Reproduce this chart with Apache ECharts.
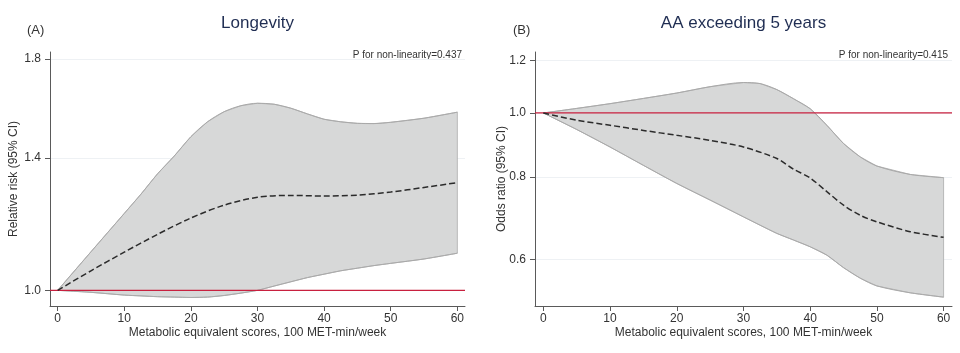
<!DOCTYPE html>
<html>
<head>
<meta charset="utf-8">
<script src="https://cdn.jsdelivr.net/npm/echarts@6/dist/echarts.min.js"></script>
<style>html,body{margin:0;padding:0;background:#fff}#c{width:960px;height:353px}</style>
</head>
<body>
<div id="c"></div>
<script>
// ---- Panel A: Longevity (relative risk) ----
const xBandA = [0, 5, 10, 12.5, 15, 17.5, 20, 22.5, 25, 27.5, 30, 32.5, 35, 37.5, 40, 42.5, 45, 47.5, 50, 55, 60];
const upperA = [1.0, 1.103, 1.216, 1.277, 1.345, 1.407, 1.478, 1.535, 1.575, 1.599, 1.609, 1.605, 1.589, 1.566, 1.545, 1.535, 1.529, 1.528, 1.533, 1.549, 1.573];
const lowerA = [1.0, 0.995, 0.988, 0.986, 0.984, 0.983, 0.982, 0.983, 0.987, 0.993, 1.0, 1.011, 1.022, 1.033, 1.042, 1.051, 1.058, 1.065, 1.071, 1.083, 1.099];
const xLineA = [0, 5, 10, 15, 20, 25, 30, 35, 40, 45, 50, 55, 60];
const rrA = [1.0, 1.051, 1.102, 1.153, 1.202, 1.242, 1.267, 1.273, 1.271, 1.274, 1.284, 1.299, 1.315];
const yTicksA = [1.0, 1.4, 1.8];

// ---- Panel B: AA exceeding 5 years (odds ratio) ----
const xBandB = [0, 5, 10, 15, 20, 25, 30, 32.5, 35, 37.5, 40, 42.5, 45, 47.5, 50, 55, 60];
const upperB = [1.0, 1.016, 1.033, 1.052, 1.072, 1.096, 1.112, 1.108, 1.085, 1.051, 1.015, 0.958, 0.899, 0.858, 0.831, 0.807, 0.798];
const lowerB = [1.0, 0.944, 0.888, 0.833, 0.782, 0.738, 0.696, 0.676, 0.657, 0.642, 0.627, 0.609, 0.583, 0.562, 0.547, 0.534, 0.526];
const xLineB = [0, 5, 10, 15, 20, 25, 30, 35, 37.5, 40, 42.5, 45, 47.5, 50, 55, 60];
const orB = [1.0, 0.975, 0.958, 0.941, 0.925, 0.909, 0.888, 0.853, 0.822, 0.797, 0.76, 0.725, 0.70, 0.684, 0.661, 0.648];
const yTicksB = [0.6, 0.8, 1.0, 1.2];

const xTicks = [0, 10, 20, 30, 40, 50, 60];
const xName = 'Metabolic equivalent scores, 100 MET-min/week';
const refValue = 1.0;

const FONT = 'Liberation Sans, Arial, sans-serif';
const AXIS_COLOR = '#5a5a5a';
const TEXT_COLOR = '#333333';
const BAND_FILL = '#d7d8d8';
const BAND_EDGE = '#a9a9a9';
const RED = '#c8203f';
const SMOOTH = 0.3;

const xRangeA = [-1.15, 61.15];
const xRangeB = [-1.25, 61.26];

function xAxisCfg(gi, range) {
  return {
    type: 'value', gridIndex: gi, min: range[0], max: range[1],
    name: xName, nameLocation: 'middle', nameGap: 21, nameMoveOverlap: false,
    nameTextStyle: { fontFamily: FONT, fontSize: 12, color: TEXT_COLOR },
    axisLine: { show: true, onZero: false, lineStyle: { color: AXIS_COLOR, width: 1 } },
    axisTick: { show: true, length: 5, customValues: xTicks, lineStyle: { color: AXIS_COLOR } },
    axisLabel: { customValues: xTicks, margin: 7, fontFamily: FONT, fontSize: 12, color: TEXT_COLOR },
    splitLine: { show: false }
  };
}
function yAxisCfg(gi, min, max, ticks, name, gap) {
  return {
    type: 'log', logBase: 10, gridIndex: gi, min: min, max: max,
    name: name, nameLocation: 'middle', nameGap: gap, nameRotate: 90, nameMoveOverlap: false,
    nameTextStyle: { fontFamily: FONT, fontSize: 12, color: TEXT_COLOR },
    axisLine: { show: true, onZero: false, lineStyle: { color: AXIS_COLOR, width: 1 } },
    axisTick: { show: true, length: 5, customValues: ticks, lineStyle: { color: AXIS_COLOR } },
    axisLabel: { customValues: ticks, margin: 9, fontFamily: FONT, fontSize: 12, color: TEXT_COLOR,
      formatter: v => Number(v).toFixed(1) },
    splitLine: { show: true, lineStyle: { color: '#eef1f4', width: 1 } }
  };
}
function bandSeries(gi, xs, lo, up) {
  return [
    { // filled confidence band (polygon through axis coords)
      type: 'custom', xAxisIndex: gi, yAxisIndex: gi, z: 1, silent: true,
      data: [[xs[0], lo[0]]],
      renderItem: function (params, api) {
        const pts = [];
        for (let i = 0; i < xs.length; i++) pts.push(api.coord([xs[i], up[i]]));
        for (let i = xs.length - 1; i >= 0; i--) pts.push(api.coord([xs[i], lo[i]]));
        return { type: 'polygon', shape: { points: pts }, style: { fill: BAND_FILL, stroke: BAND_EDGE, lineWidth: 0.8 } };
      }
    },
    { type: 'line', xAxisIndex: gi, yAxisIndex: gi, symbol: 'none', smooth: SMOOTH, silent: true,
      data: xs.map((x, i) => [x, up[i]]), lineStyle: { color: BAND_EDGE, width: 1 }, z: 2 },
    { type: 'line', xAxisIndex: gi, yAxisIndex: gi, symbol: 'none', smooth: SMOOTH, silent: true,
      data: xs.map((x, i) => [x, lo[i]]), lineStyle: { color: BAND_EDGE, width: 1 }, z: 2 }
  ];
}
function refSeries(gi, range) {
  // horizontal reference line at ratio = 1 across the whole plot width
  return {
    type: 'line', xAxisIndex: gi, yAxisIndex: gi, silent: true, symbol: 'none', z: 4,
    data: [[range[0], refValue], [range[1], refValue]],
    lineStyle: { color: RED, width: 1.2, type: 'solid' }
  };
}
function centerSeries(gi, xs, ys) {
  return {
    type: 'line', xAxisIndex: gi, yAxisIndex: gi, symbol: 'none', smooth: SMOOTH, silent: true,
    data: xs.map((x, i) => [x, ys[i]]),
    lineStyle: { color: '#2b2b2b', width: 1.5, type: [6, 3] }, z: 5
  };
}

const chart = echarts.init(document.getElementById('c'), null, { renderer: 'canvas' });
chart.setOption({
  backgroundColor: '#ffffff',
  animation: false,
  grid: [
    { left: 50, top: 52, width: 415, height: 254 },
    { left: 535, top: 52, width: 417, height: 254 }
  ],
  xAxis: [xAxisCfg(0, xRangeA), xAxisCfg(1, xRangeB)],
  yAxis: [
    yAxisCfg(0, 0.961, 1.833, yTicksA, 'Relative risk (95% CI)', 30),
    yAxisCfg(1, 0.51, 1.237, yTicksB, 'Odds ratio (95% CI)', 27)
  ],
  series: [
    ...bandSeries(0, xBandA, lowerA, upperA),
    refSeries(0, xRangeA),
    centerSeries(0, xLineA, rrA),
    ...bandSeries(1, xBandB, lowerB, upperB),
    refSeries(1, xRangeB),
    centerSeries(1, xLineB, orB)
  ],
  graphic: [
    { type: 'text', x: 257.5, y: 23, style: { text: 'Longevity', font: '17px ' + FONT, fill: '#1f2d52', align: 'center', verticalAlign: 'middle', textAlign: 'center', textVerticalAlign: 'middle' } },
    { type: 'text', x: 743.5, y: 23, style: { text: 'AA exceeding 5 years', font: '17px ' + FONT, fill: '#1f2d52', align: 'center', verticalAlign: 'middle', textAlign: 'center', textVerticalAlign: 'middle' } },
    { type: 'text', x: 27, y: 30, style: { text: '(A)', font: '13px ' + FONT, fill: TEXT_COLOR, align: 'left', verticalAlign: 'middle', textAlign: 'left', textVerticalAlign: 'middle' } },
    { type: 'text', x: 513, y: 30, style: { text: '(B)', font: '13px ' + FONT, fill: TEXT_COLOR, align: 'left', verticalAlign: 'middle', textAlign: 'left', textVerticalAlign: 'middle' } },
    { type: 'text', x: 462, y: 55, style: { text: 'P for non-linearity=0.437', font: '10px ' + FONT, fill: TEXT_COLOR, align: 'right', verticalAlign: 'middle', textAlign: 'right', textVerticalAlign: 'middle' } },
    { type: 'text', x: 948, y: 55, style: { text: 'P for non-linearity=0.415', font: '10px ' + FONT, fill: TEXT_COLOR, align: 'right', verticalAlign: 'middle', textAlign: 'right', textVerticalAlign: 'middle' } }
  ]
});
</script>
</body>
</html>
